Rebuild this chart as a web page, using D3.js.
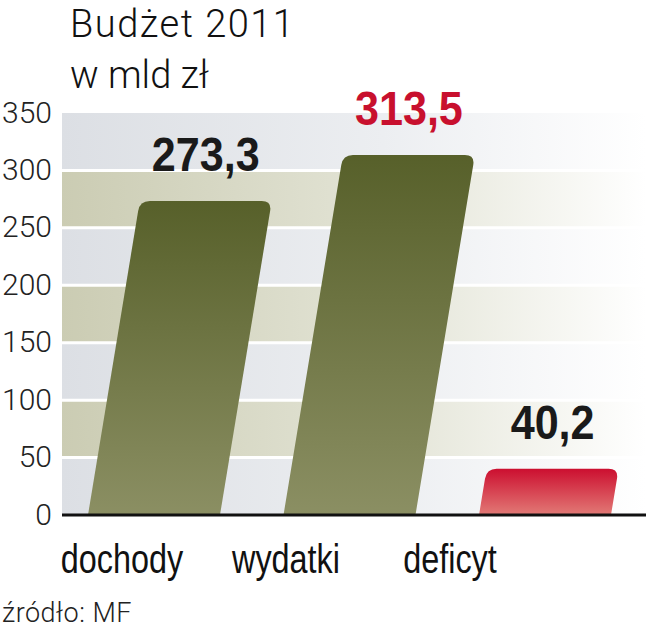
<!DOCTYPE html>
<html>
<head>
<meta charset="utf-8">
<script src="https://cdn.jsdelivr.net/npm/d3@7"></script>
<style>
  body { margin: 0; background: #fff; }
  svg { display: block; }
</style>
</head>
<body>
<svg id="chart" width="649" height="640"></svg>
<script>
// data
const CATEGORIES = ['dochody', 'wydatki', 'deficyt'];
const VALUES = [273.3, 313.5, 40.2];
const VALUE_LABELS = ['273,3', '313,5', '40,2'];
const TICKS = [0, 50, 100, 150, 200, 250, 300, 350];
const TITLE = ['Budżet 2011', 'w mld zł'];
const SOURCE = 'źródło: MF';

const LEFT = 62, RIGHT = 646, TOP = 113, BASE = 515;
const SLANT = 0.165;
const RED = '#c8102e';

var svg = d3.select('#chart');
var defs = svg.append('defs');

var y = d3.scaleLinear().domain([0, 350]).range([BASE, TOP]);
var x = d3.scaleBand().domain(CATEGORIES).range([62, 637])
	.paddingInner(0.325).paddingOuter(0.133);
var xl = d3.scalePoint().domain(CATEGORIES).range([122, 450]);

// gradients
function hGrad(id, c) {
	var g = defs.append('linearGradient').attr('id', id)
		.attr('x1', 0).attr('x2', 1).attr('y1', 0).attr('y2', 0);
	g.append('stop').attr('offset', '0%').attr('stop-color', c[0]);
	g.append('stop').attr('offset', '55%').attr('stop-color', c[1]);
	g.append('stop').attr('offset', '100%').attr('stop-color', '#ffffff');
}
function vGrad(id, top, bottom) {
	var g = defs.append('linearGradient').attr('id', id)
		.attr('x1', 0).attr('x2', 0).attr('y1', 0).attr('y2', 1);
	g.append('stop').attr('offset', '0%').attr('stop-color', top);
	g.append('stop').attr('offset', '100%').attr('stop-color', bottom);
}
hGrad('grey', ['#dcdfe4', '#eceef1']);
hGrad('beige', ['#cbccb3', '#e3e4d6']);
vGrad('olive', '#57602a', '#8b8f63');
vGrad('red', '#cc0f30', '#e27a76');

// background bands
var bands = d3.range(TICKS.length - 1);
svg.append('g').selectAll('rect')
	.data(bands)
	.enter()
	.append('rect')
	.attr('x', LEFT)
	.attr('width', RIGHT - LEFT)
	.attr('y', function(i) { return y(TICKS[i + 1]); })
	.attr('height', function(i) { return y(TICKS[i]) - y(TICKS[i + 1]); })
	.attr('fill', function(i) { return i % 2 == 0 ? 'url(#grey)' : 'url(#beige)'; });

// white grid lines
svg.append('g').selectAll('line')
	.data(TICKS.slice(1, -1))
	.enter()
	.append('line')
	.attr('x1', LEFT).attr('x2', RIGHT)
	.attr('y1', function(d) { return y(d); })
	.attr('y2', function(d) { return y(d); })
	.attr('stroke', '#ffffff')
	.attr('stroke-width', 3);

// slanted bars with rounded tops
function barPath(d, i) {
	var x0 = x(CATEGORIES[i]), w = x.bandwidth();
	var yt = y(d), shift = (BASE - yt) * SLANT, r = 10;
	var tl = x0 + shift, tr = x0 + w + shift;
	var k = r / (BASE - yt);
	var p = d3.path();
	p.moveTo(x0, BASE);
	p.lineTo(tl - shift * k, yt + r);
	p.quadraticCurveTo(tl, yt, tl + r, yt);
	p.lineTo(tr - r, yt);
	p.quadraticCurveTo(tr, yt, tr - shift * k, yt + r);
	p.lineTo(x0 + w, BASE);
	p.closePath();
	return p.toString();
}
svg.append('g').selectAll('path')
	.data(VALUES)
	.enter()
	.append('path')
	.attr('d', barPath)
	.attr('fill', function(d, i) { return CATEGORIES[i] == 'deficyt' ? 'url(#red)' : 'url(#olive)'; });

// baseline
svg.append('line')
	.attr('x1', LEFT).attr('x2', RIGHT)
	.attr('y1', BASE).attr('y2', BASE)
	.attr('stroke', '#111')
	.attr('stroke-width', 3);

// value labels (condensed bold)
svg.append('g').selectAll('text')
	.data(VALUES)
	.enter()
	.append('text')
	.attr('transform', function(d, i) {
		var cx = x(CATEGORIES[i]) + x.bandwidth() / 2 + (BASE - y(d)) * SLANT;
		return 'translate(' + cx + ',' + (y(d) - 30) + ') scale(0.88,1)';
	})
	.attr('text-anchor', 'middle')
	.style('font-family', '"Liberation Sans", Arial, sans-serif')
	.style('font-weight', 'bold')
	.style('font-size', '49px')
	.style('fill', function(d, i) { return CATEGORIES[i] == 'wydatki' ? RED : '#1a1a1a'; })
	.text(function(d, i) { return VALUE_LABELS[i]; });

// y tick labels
svg.append('g').selectAll('text')
	.data(TICKS)
	.enter()
	.append('text')
	.attr('x', 52)
	.attr('y', function(d) { return y(d) - 1; })
	.attr('text-anchor', 'end')
	.attr('dominant-baseline', 'central')
	.style('font-family', 'Roboto, sans-serif')
	.style('font-weight', 300)
	.style('font-size', '30px')
	.style('fill', '#222')
	.text(function(d) { return d; });

// category labels (condensed)
svg.append('g').selectAll('text')
	.data(CATEGORIES)
	.enter()
	.append('text')
	.attr('transform', function(d) { return 'translate(' + xl(d) + ',573) scale(0.79,1)'; })
	.attr('text-anchor', 'middle')
	.style('font-family', '"Liberation Sans", Arial, sans-serif')
	.style('font-size', '41px')
	.style('fill', '#111')
	.text(function(d) { return d; });

// title
svg.append('g').selectAll('text')
	.data(TITLE)
	.enter()
	.append('text')
	.attr('x', 70)
	.attr('y', function(d, i) { return 37 + i * 51; })
	.style('font-family', 'Roboto, sans-serif')
	.style('font-weight', 300)
	.style('font-size', '38px')
	.style('letter-spacing', function(d, i) { return i == 0 ? '1.5px' : '0px'; })
	.style('fill', '#111')
	.text(function(d) { return d; });

// source
svg.append('text')
	.attr('x', 2)
	.attr('y', 622)
	.style('font-family', 'Roboto, sans-serif')
	.style('font-weight', 300)
	.style('font-size', '27px')
	.style('letter-spacing', '0.5px')
	.style('fill', '#222')
	.text(SOURCE);
</script>
</body>
</html>
